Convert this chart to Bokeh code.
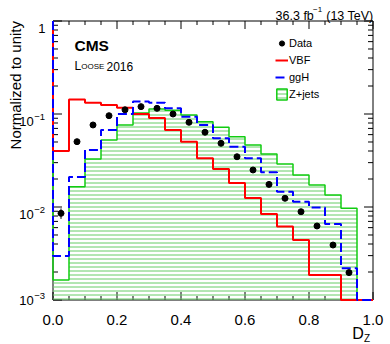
import numpy as np
from bokeh.plotting import figure
from bokeh.models import Range1d, Label, Legend, LegendItem, ColumnDataSource
from bokeh.embed import file_html
from bokeh.resources import INLINE

# ---------------- data ----------------
bin_edges = [0.00, 0.05, 0.10, 0.15, 0.20, 0.25, 0.30, 0.35, 0.40, 0.45, 0.50,
             0.55, 0.60, 0.65, 0.70, 0.75, 0.80, 0.85, 0.90, 0.95, 1.00]
vbf = [0.040, 0.143, 0.132, 0.125, 0.117, 0.100, 0.0906, 0.0673, 0.0504, 0.0334,
       0.0256, 0.0181, 0.0125, 0.00841, 0.00617, 0.00442, 0.00186, 0.00186, 0.0, 0.0]
ggh = [0.00297, 0.0210, 0.0410, 0.0673, 0.100, 0.136, 0.132, 0.115, 0.0935, 0.0762,
       0.0548, 0.0445, 0.0334, 0.0236, 0.0146, 0.0114, 0.00988, 0.00656, 0.00219, 0.0]
zjets = [0.00164, 0.0165, 0.0328, 0.0525, 0.0762, 0.1025, 0.113, 0.110, 0.0976, 0.0827,
         0.0719, 0.0570, 0.0464, 0.0372, 0.0290, 0.0221, 0.0172, 0.0135, 0.00968, 0.0]
data = [0.00855, 0.0504, 0.0762, 0.0959, 0.111, 0.120, 0.115, 0.100, 0.0814, 0.0636,
        0.0484, 0.0347, 0.0250, 0.0175, 0.0124, 0.0089, 0.00625, 0.0039, 0.00197]
data_err = [0.0011, 0.0015, 0.0018, 0.002, 0.002, 0.002, 0.002, 0.002, 0.0018, 0.0016,
            0.0014, 0.0012, 0.001, 0.0007, 0.0005, 0.0004, 0.0003, 0.0002, 0.00015]

x_ticks = [0.0, 0.2, 0.4, 0.6, 0.8, 1.0]
x_tick_labels = ["0.0", "0.2", "0.4", "0.6", "0.8", "1.0"]
x_minor = [0.05, 0.10, 0.15, 0.25, 0.30, 0.35, 0.45, 0.50, 0.55, 0.65, 0.70, 0.75,
           0.85, 0.90, 0.95]
y_ticks = [0.001, 0.01, 0.1, 1.0]
y_tick_base = ["10", "10", "10", "1"]
y_tick_exp = ["\u22123", "\u22122", "\u22121", ""]
y_minor = [m * d for d in (0.001, 0.01, 0.1) for m in (2, 3, 4, 5, 6, 7, 8, 9)]

legend_labels = ["Data", "VBF", "ggH", "Z+jets"]

# ---------------- layout / style ----------------
FONT = "Liberation Sans"
X_MIN, X_MAX = 0.0, 1.0
Y_MIN, Y_MAX = 1e-3, 1.0
W, H = 390, 344
PAD_L, PAD_R, PAD_T, PAD_B = 52.5, 17.5, 20.5, 44.5
FW, FH = W - PAD_L - PAD_R, H - PAD_T - PAD_B          # plotting box in px
PX_X = (X_MAX - X_MIN) / FW                              # data units per px (x)
DEC = FH / (np.log10(Y_MAX) - np.log10(Y_MIN))          # px per decade (y)

RED = "#ff0000"
BLUE = "#0000ff"
GREEN = "#11cc11"
HATCH = "#66cc66"

edges = np.array(bin_edges)
centers = (edges[:-1] + edges[1:]) / 2


def step_xy(vals):
    v = np.where(np.array(vals) > 0, np.array(vals), Y_MIN)
    xs = np.concatenate([[edges[0]], np.repeat(edges, 2)[1:-1]])
    ys = np.concatenate([[Y_MAX], np.repeat(v, 2)])
    return xs, ys


x_range = Range1d(X_MIN - PAD_L * PX_X, X_MAX + PAD_R * PX_X)
y_range = Range1d(Y_MIN / 10 ** (PAD_B / DEC), Y_MAX * 10 ** (PAD_T / DEC))

p = figure(width=W, height=H, x_range=x_range, y_range=y_range, y_axis_type="log",
           x_axis_location=None, y_axis_location=None,
           output_backend="svg", toolbar_location=None,
           min_border=0, min_border_left=0, min_border_right=0,
           min_border_top=0, min_border_bottom=0)
p.xgrid.visible = False
p.ygrid.visible = False
p.outline_line_color = None
p.background_fill_color = "white"
p.border_fill_color = "white"

# ---------------- frame and ticks ----------------
p.quad(left=[X_MIN], right=[X_MAX], bottom=[Y_MIN], top=[Y_MAX], fill_alpha=0,
       line_color="black", line_width=1)


def x_ticks_seg(ticks, length):
    t = np.array(ticks)
    f = 10 ** (length / DEC)
    p.segment(x0=t, y0=np.full_like(t, Y_MIN), x1=t, y1=np.full_like(t, Y_MIN * f),
              line_color="black", line_width=1)
    p.segment(x0=t, y0=np.full_like(t, Y_MAX), x1=t, y1=np.full_like(t, Y_MAX / f),
              line_color="black", line_width=1)


def y_ticks_seg(ticks, length):
    t = np.array(ticks)
    d = length * PX_X
    p.segment(x0=np.full_like(t, X_MIN), y0=t, x1=np.full_like(t, X_MIN + d), y1=t,
              line_color="black", line_width=1)
    p.segment(x0=np.full_like(t, X_MAX), y0=t, x1=np.full_like(t, X_MAX - d), y1=t,
              line_color="black", line_width=1)


x_ticks_seg(x_ticks, 8)
x_ticks_seg(x_minor, 4)
y_ticks_seg(y_ticks, 9)
y_ticks_seg(y_minor, 5)

# ---------------- histograms ----------------
zsrc = ColumnDataSource(dict(left=edges[:-1], right=edges[1:],
                             top=np.where(np.array(zjets) > 0, zjets, Y_MIN)))
p.quad(left="left", right="right", bottom=Y_MIN, top="top", source=zsrc,
       fill_alpha=0, line_alpha=0, hatch_pattern="horizontal_line",
       hatch_color=HATCH, hatch_scale=4, hatch_weight=1)

zx, zy = step_xy(zjets)
p.line(zx, zy, line_color=GREEN, line_width=1.5)

rx, ry = step_xy(vbf)
r_vbf = p.line(rx, ry, line_color=RED, line_width=2)

gx, gy = step_xy(ggh)
r_ggh = p.line(gx, gy, line_color=BLUE, line_width=2, line_dash="9 4")

# data points
dsrc = ColumnDataSource(dict(x=centers[:len(data)], y=data,
                             lo=np.array(data) - np.array(data_err),
                             hi=np.array(data) + np.array(data_err)))
p.segment(x0="x", y0="lo", x1="x", y1="hi", source=dsrc, line_color="black", line_width=1)
r_data = p.scatter(x="x", y="y", source=dsrc, size=6, color="black")

# legend-only (hidden) renderer for the Z+jets box
r_zleg = p.quad(left="left", right="right", bottom=Y_MIN, top="top", source=zsrc,
                fill_alpha=0, line_color=GREEN, line_width=1.5,
                hatch_pattern="horizontal_line", hatch_color=HATCH, hatch_scale=4,
                hatch_weight=1, visible=False)

legend = Legend(items=[LegendItem(label=legend_labels[0], renderers=[r_data]),
                       LegendItem(label=legend_labels[1], renderers=[r_vbf]),
                       LegendItem(label=legend_labels[2], renderers=[r_ggh]),
                       LegendItem(label=legend_labels[3], renderers=[r_zleg])],
                location=(275, 243), orientation="vertical",
                glyph_width=13, glyph_height=14, label_height=14, spacing=3,
                padding=0, margin=0, label_standoff=1,
                label_text_font=FONT, label_text_font_size="11px",
                label_text_color="black",
                border_line_alpha=0, background_fill_alpha=0)
p.add_layout(legend)


# ---------------- texts ----------------
def lab(text, x, y, xo, yo, size, align="left", baseline="alphabetic", style="normal",
        angle=0.0):
    """xo: px to the right, yo: px downwards from the data anchor (x, y)."""
    p.add_layout(Label(x=x, y=y, x_units="data", y_units="data", x_offset=xo, y_offset=-yo,
                       text=text, text_font=FONT, text_font_size=size, text_font_style=style,
                       text_align=align, text_baseline=baseline, text_color="black",
                       angle=angle))


# x tick labels
for t, l in zip(x_ticks, x_tick_labels):
    lab(l, t, Y_MIN, 0, 19.8, "15px", align="center")

# y tick labels (ROOT keeps the end labels inside the axis extent)
for t, b, e in zip(y_ticks, y_tick_base, y_tick_exp):
    if e:
        base_dy = 0.5 if t == Y_MIN else 7.8
        lab(b, X_MIN, t, -19.2, base_dy, "13px", align="right")
        lab(e, X_MIN, t, -18.7, base_dy - 4.6, "9.5px", align="left")
    else:
        lab(b, X_MIN, t, -7.5, 7.8, "13px", align="right")

# axis titles
lab("Normalized to unity", X_MIN, Y_MAX, -38.0, 0, "15px", align="right",
    angle=np.pi / 2)
lab("D", X_MAX, Y_MIN, -9.2, 33.8, "16px", align="right")
lab("Z", X_MAX, Y_MIN, -9.0, 38.8, "10px", align="left")

# CMS labels
lab("CMS", X_MIN, Y_MAX, 21.5, 24.5, "15.5px", style="bold")
lab("L", X_MIN, Y_MAX, 21.5, 45.2, "12px")
lab("OOSE", X_MIN, Y_MAX, 28.2, 45.2, "8px")
lab("2016", X_MIN, Y_MAX, 53.5, 45.2, "12px")

# luminosity
lab("(13 TeV)", X_MAX, Y_MAX, 0.5, -5.5, "12.5px", align="right")
lab("\u22121", X_MAX, Y_MAX, -50.8, -11.2, "8px", align="right")
lab("36.3 fb", X_MAX, Y_MAX, -59.2, -5.5, "12.5px", align="right")

open("out.html", "w").write(file_html(p, INLINE))
